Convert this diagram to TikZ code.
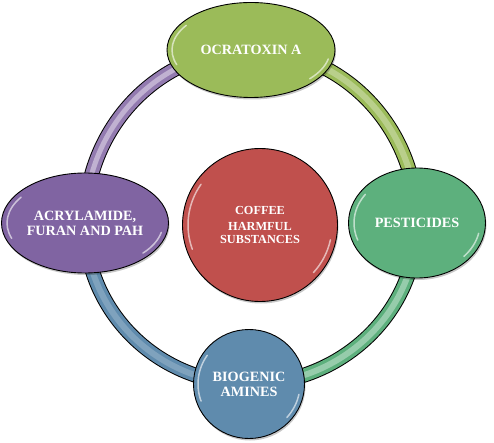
\documentclass[tikz,border=0pt]{standalone}
\usepackage{fontspec}
\setmainfont{Liberation Serif}
\usetikzlibrary{shapes.geometric,shadows,backgrounds}
\definecolor{ocracol}{HTML}{9BBB59}
\definecolor{pestcol}{HTML}{5DB07D}
\definecolor{biogcol}{HTML}{5F8BAD}
\definecolor{acrycol}{HTML}{8064A2}
\definecolor{coffcol}{HTML}{C0504D}

\begin{document}
\begin{tikzpicture}[line cap=round,line join=round,x=1pt,y=1pt,
	bubble/.style={ellipse,draw=black,line width=0.9pt,inner sep=0pt,text=white,align=center,
		font=\fontsize{14.2}{15}\selectfont\bfseries,
		drop shadow={shadow xshift=1pt,shadow yshift=-2pt,opacity=0.22,fill=black}},
	rim/.style={line width=15pt,draw=black},
	glint/.style={draw=white,line width=1.5pt,opacity=0.6}]
		\useasboundingbox (0,0) rectangle (494,-443);
		% nodes of the cycle
		\node[bubble,fill=ocracol,minimum width=168,minimum height=95] (ocra) at (251,-50) {OCRATOXIN A};
		\node[bubble,fill=pestcol,minimum width=137,minimum height=110] (pest) at (417,-223) {PESTICIDES};
		\node[bubble,fill=biogcol,minimum width=111,minimum height=109] (biog) at (249,-384) {BIOGENIC\\AMINES};
		\node[bubble,fill=acrycol,minimum width=167,minimum height=100] (acry) at (85,-223) {ACRYLAMIDE,\\FURAN AND PAH};
		\node[bubble,fill=coffcol,minimum width=155,minimum height=153,font=\fontsize{12.3}{13}\selectfont\bfseries] (coff) at (260,-225) {COFFEE\\[3pt]HARMFUL\\SUBSTANCES};
		% ring behind the nodes
		\begin{scope}[on background layer]
			\draw [rim] (ocra.center) arc[start angle=90,end angle=0,x radius=166,y radius=173];
			\draw [line width=13pt,ocracol] (ocra.center) arc[start angle=90,end angle=0,x radius=166,y radius=173];
			\draw [line width=6pt,ocracol!70!white] (ocra.center) arc[start angle=90,end angle=0,x radius=166,y radius=173];
			\draw [rim] (pest.center) arc[start angle=0,end angle=-90,x radius=168,y radius=161];
			\draw [line width=13pt,pestcol] (pest.center) arc[start angle=0,end angle=-90,x radius=168,y radius=161];
			\draw [line width=6pt,pestcol!65!white] (pest.center) arc[start angle=0,end angle=-90,x radius=168,y radius=161];
			\draw [rim] (biog.center) arc[start angle=270,end angle=180,x radius=164,y radius=161];
			\draw [line width=13pt,biogcol] (biog.center) arc[start angle=270,end angle=180,x radius=164,y radius=161];
			\draw [line width=6pt,biogcol!80!white] (biog.center) arc[start angle=270,end angle=180,x radius=164,y radius=161];
			\draw [rim] (acry.center) arc[start angle=180,end angle=90,x radius=166,y radius=173];
			\draw [line width=13pt,acrycol!85!white] (acry.center) arc[start angle=180,end angle=90,x radius=166,y radius=173];
			\draw [line width=5pt,acrycol!50!white] (acry.center) arc[start angle=180,end angle=90,x radius=166,y radius=173];
		\end{scope}
		% glossy edges
		\draw [glint] ([shift={(145:79 and 43)}]ocra.center) arc[start angle=145,end angle=200,x radius=79,y radius=43];
		\draw [glint] ([shift={(-12:79 and 43)}]ocra.center) arc[start angle=-12,end angle=-42,x radius=79,y radius=43];
		\draw [glint] ([shift={(145:63 and 50)}]pest.center) arc[start angle=145,end angle=200,x radius=63,y radius=50];
		\draw [glint] ([shift={(-12:63 and 50)}]pest.center) arc[start angle=-12,end angle=-42,x radius=63,y radius=50];
		\draw [glint] ([shift={(145:51 and 50)}]biog.center) arc[start angle=145,end angle=200,x radius=51,y radius=50];
		\draw [glint] ([shift={(-12:51 and 50)}]biog.center) arc[start angle=-12,end angle=-42,x radius=51,y radius=50];
		\draw [glint] ([shift={(145:78 and 45)}]acry.center) arc[start angle=145,end angle=200,x radius=78,y radius=45];
		\draw [glint] ([shift={(-12:78 and 45)}]acry.center) arc[start angle=-12,end angle=-42,x radius=78,y radius=45];
		\draw [glint] ([shift={(145:72 and 71)}]coff.center) arc[start angle=145,end angle=200,x radius=72,y radius=71];
		\draw [glint] ([shift={(-12:72 and 71)}]coff.center) arc[start angle=-12,end angle=-42,x radius=72,y radius=71];
	\end{tikzpicture}
\end{document}
